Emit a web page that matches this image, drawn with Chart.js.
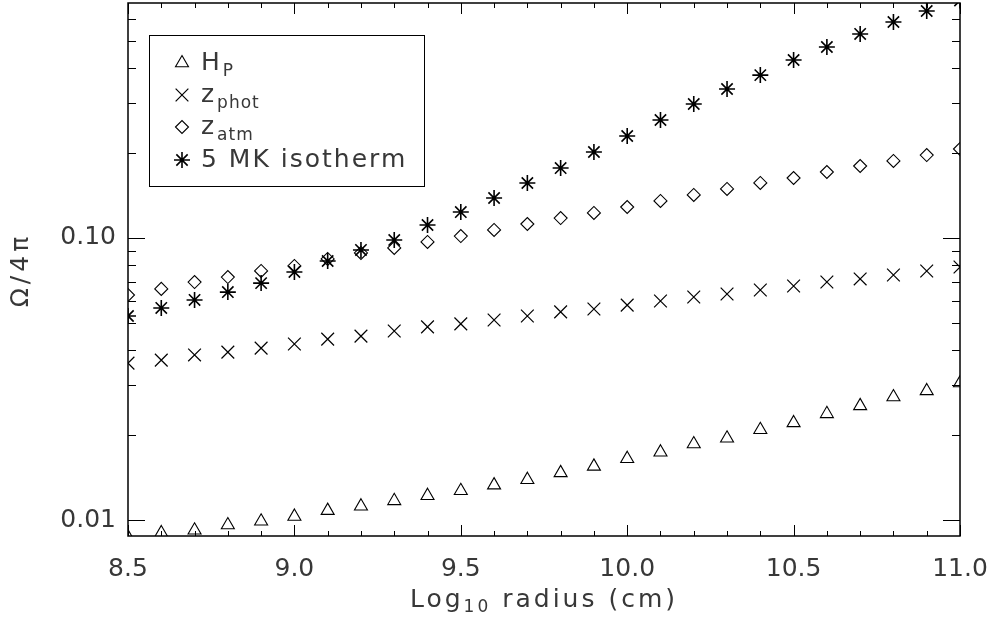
<!DOCTYPE html>
<html>
<head>
<meta charset="utf-8">
<script src="https://cdn.jsdelivr.net/npm/chart.js@4.4.1/dist/chart.umd.min.js"></script>
<style>
  html, body { margin: 0; padding: 0; background: #fff; }
  #wrap { width: 997px; height: 628px; }
</style>
</head>
<body>
<div id="wrap"><canvas id="chart"></canvas></div>
<script>
// log10 radius (cm)
var radius = [8.5, 8.6, 8.7, 8.8, 8.9, 9.0, 9.1, 9.2, 9.3, 9.4, 9.5, 9.6, 9.7,
  9.8, 9.9, 10.0, 10.1, 10.2, 10.3, 10.4, 10.5, 10.6, 10.7, 10.8, 10.9, 11.0];

// Omega / 4 pi for each quantity
var hP = [0.0087, 0.0090, 0.0092, 0.0096, 0.0099, 0.0103, 0.0108, 0.0112, 0.0117,
  0.0122, 0.0127, 0.0133, 0.0139, 0.0147, 0.0155, 0.0165, 0.0174, 0.0186, 0.0195,
  0.0209, 0.0221, 0.0238, 0.0254, 0.0273, 0.0287, 0.0306];
var zPhot = [0.0360, 0.0369, 0.0385, 0.0394, 0.0407, 0.0421, 0.0438, 0.0449, 0.0468,
  0.0484, 0.0496, 0.0512, 0.0529, 0.0547, 0.0560, 0.0578, 0.0598, 0.0618, 0.0633,
  0.0654, 0.0676, 0.0698, 0.0716, 0.0739, 0.0764, 0.0789];
var zAtm = [0.0628, 0.0660, 0.0698, 0.0727, 0.0764, 0.0796, 0.0843, 0.0885, 0.0922,
  0.0968, 0.1016, 0.1068, 0.1121, 0.1177, 0.1227, 0.1288, 0.1353, 0.1421, 0.1492,
  0.1567, 0.1632, 0.1714, 0.1800, 0.1876, 0.1968, 0.2068];
var isotherm = [0.0529, 0.0565, 0.0603, 0.0643, 0.0692, 0.0758, 0.0829, 0.0907, 0.0984,
  0.1112, 0.1236, 0.1386, 0.1567, 0.1770, 0.2018, 0.2300, 0.2620, 0.2986, 0.3375,
  0.3780, 0.4276, 0.4756, 0.5290, 0.5830, 0.6380, 0.6950];

var xTicks = [8.5, 9.0, 9.5, 10.0, 10.5, 11.0];
var yTickLabels = [0.01, 0.10];
var yMinorTicks = [0.02, 0.03, 0.04, 0.05, 0.06, 0.07, 0.08, 0.09, 0.2, 0.3, 0.4, 0.5, 0.6];

var legendMain = ['H', 'z', 'z', '5 MK isotherm'];
var legendSub = ['P', 'phot', 'atm', ''];

var FONT = '"DejaVu Sans", sans-serif';
var INK = '#000';
var TEXT = '#383838';

function pts(vals) {
  return radius.map(function (r, i) { return { x: r, y: vals[i] }; });
}

function series(label, vals, style, size, width) {
  return {
    label: label,
    data: pts(vals),
    showLine: false,
    pointStyle: style,
    pointRadius: size,
    pointHoverRadius: size,
    borderColor: INK,
    backgroundColor: 'rgba(0,0,0,0)',
    pointBorderWidth: width,
    clip: 0
  };
}

var datasets = [
  series('H_P', hP, 'triangle', 7.5, 1.1),
  series('z_phot', zPhot, 'crossRot', 9, 1.2),
  series('z_atm', zAtm, 'rectRot', 6.5, 1.1),
  series('5 MK isotherm', isotherm, 'star', 8, 1.6)
];

function spacing(ctx, px) {
  if ('letterSpacing' in ctx) ctx.letterSpacing = px + 'px';
}

// frame, inward ticks, legend and axis titles in the IDL style
var idlDecor = {
  id: 'idlDecor',
  afterDatasetsDraw: function (chart) {
    var ctx = chart.ctx;
    var a = chart.chartArea;
    var xs = chart.scales.x, ys = chart.scales.y;
    ctx.save();
    ctx.strokeStyle = INK;
    ctx.lineWidth = 1.5;
    ctx.strokeRect(a.left, a.top, a.right - a.left, a.bottom - a.top);

    ctx.lineWidth = 1;
    ctx.beginPath();
    // x ticks every 0.1, long on the half units
    for (var k = 0; k <= 25; k++) {
      var v = 8.5 + k * 0.1;
      var px = Math.round(xs.getPixelForValue(v)) + 0.5;
      var len = (k % 5 === 0) ? 11 : 5;
      ctx.moveTo(px, a.bottom); ctx.lineTo(px, a.bottom - len);
      ctx.moveTo(px, a.top); ctx.lineTo(px, a.top + len);
    }
    yTickLabels.forEach(function (t) {
      var py = Math.round(ys.getPixelForValue(t)) + 0.5;
      ctx.moveTo(a.left, py); ctx.lineTo(a.left + 17, py);
      ctx.moveTo(a.right, py); ctx.lineTo(a.right - 17, py);
    });
    yMinorTicks.forEach(function (t) {
      var py = Math.round(ys.getPixelForValue(t)) + 0.5;
      ctx.moveTo(a.left, py); ctx.lineTo(a.left + 8, py);
      ctx.moveTo(a.right, py); ctx.lineTo(a.right - 8, py);
    });
    ctx.stroke();

    // legend box
    var bx = 149, by = 35, bw = 275, bh = 151;
    ctx.lineWidth = 1;
    ctx.strokeRect(bx + 0.5, by + 0.5, bw, bh);
    var rows = [63, 95, 127, 160];
    ctx.textBaseline = 'middle';
    ctx.textAlign = 'left';
    datasets.forEach(function (ds, i) {
      ctx.lineWidth = ds.pointBorderWidth;
      ctx.strokeStyle = INK;
      ctx.fillStyle = 'rgba(0,0,0,0)';
      Chart.helpers.drawPoint(ctx, {
        pointStyle: ds.pointStyle, radius: ds.pointRadius, rotation: 0, borderWidth: ds.pointBorderWidth
      }, 182, rows[i]);
      ctx.fillStyle = TEXT;
      ctx.font = '25px ' + FONT;
      spacing(ctx, 2);
      ctx.fillText(legendMain[i], 201, rows[i]);
      var w = ctx.measureText(legendMain[i]).width;
      if (legendSub[i]) {
        ctx.font = '17px ' + FONT;
        spacing(ctx, 1);
        ctx.fillText(legendSub[i], 201 + w + 1, rows[i] + 9);
      }
    });

    // x title with subscript
    ctx.fillStyle = TEXT;
    var parts = [['Log', 25, 0], ['10', 17, 8], [' radius (cm)', 25, 0]];
    spacing(ctx, 3);
    var total = 0;
    parts.forEach(function (p) { ctx.font = p[1] + 'px ' + FONT; total += ctx.measureText(p[0]).width; });
    var tx = (a.left + a.right) / 2 - total / 2;
    parts.forEach(function (p) {
      ctx.font = p[1] + 'px ' + FONT;
      ctx.fillText(p[0], tx, 600 + p[2]);
      tx += ctx.measureText(p[0]).width;
    });

    // y title
    ctx.translate(21, 270);
    ctx.rotate(-Math.PI / 2);
    ctx.textAlign = 'center';
    ctx.font = '25px ' + FONT;
    spacing(ctx, 4);
    ctx.fillText('\u03A9/4\u03C0', 0, 0);
    ctx.restore();
  }
};

new Chart(document.getElementById('chart'), {
  type: 'scatter',
  data: { datasets: datasets },
  options: {
    responsive: true,
    maintainAspectRatio: false,
    animation: false,
    events: [],
    layout: { autoPadding: false, padding: { top: 3, right: 37, left: 0, bottom: 0 } },
    plugins: { legend: { display: false }, tooltip: { enabled: false } },
    scales: {
      x: {
        type: 'linear',
        min: 8.5,
        max: 11.0,
        afterFit: function (s) {
          s.height = 92;
          s.paddingLeft = 0; s.paddingRight = 0;
        },
        afterBuildTicks: function (s) { s.ticks = xTicks.map(function (v) { return { value: v }; }); },
        grid: { display: false, drawTicks: false },
        border: { display: false },
        ticks: {
          padding: 18,
          color: TEXT,
          font: { family: FONT, size: 25 },
          callback: function (v) { return Number(v).toFixed(1); }
        }
      },
      y: {
        type: 'logarithmic',
        min: 0.00878,
        max: 0.681,
        afterFit: function (s) {
          s.width = 128;
          s.paddingTop = 0; s.paddingBottom = 0;
        },
        afterBuildTicks: function (s) { s.ticks = yTickLabels.map(function (v) { return { value: v }; }); },
        grid: { display: false, drawTicks: false },
        border: { display: false },
        ticks: {
          padding: 12,
          autoSkip: false,
          color: TEXT,
          font: { family: FONT, size: 25 },
          callback: function (v) { return Number(v).toFixed(2); }
        }
      }
    }
  },
  plugins: [idlDecor]
});
</script>
</body>
</html>
